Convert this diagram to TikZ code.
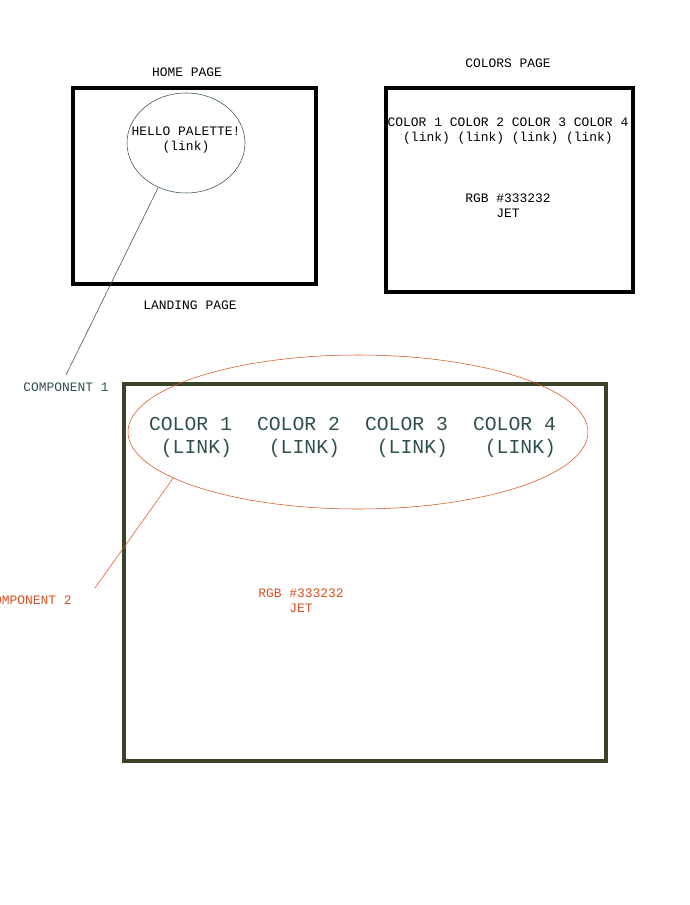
\documentclass[tikz,border=0pt]{standalone}
\usepackage{fontspec}
\setmonofont{Liberation Mono}
\usepackage{xcolor}
\usetikzlibrary{positioning, calc, shapes.geometric}
\definecolor{slate}{HTML}{2F4F4F}
\definecolor{rust}{HTML}{DA5020}
\definecolor{olive}{HTML}{3A4328}
\tikzset{
  small/.style={font=\ttfamily\fontsize{9.7}{11.3}\selectfont, align=center, inner sep=0pt},
  big/.style={font=\ttfamily\fontsize{14.8}{17.3}\selectfont, align=right, inner sep=0pt, text=slate},
  page/.style={draw=black, line width=3pt}
}
\begin{document}
\begin{tikzpicture}[x=0.75pt, y=-0.75pt]
\useasboundingbox (0,0) rectangle (689,905);
% Home page
\node[small] (hometitle) at (187,72) {HOME PAGE};
\draw[page] (73,88) rectangle (316,284);
\node[draw=slate, ellipse, minimum width=118*0.75pt, minimum height=100*0.75pt, inner sep=0pt] (hello) at (186,143) {};
\node[small] (hellotext) at (186,140) {HELLO PALETTE!\\(link)};
\node[small] (landing) at (190,305) {LANDING PAGE};

% Colors page
\node[small] (colorstitle) at (508,63) {COLORS PAGE};
\draw[page] (386,88) rectangle (633,292);
\node[small] (links) at (508,131) {COLOR 1 COLOR 2 COLOR 3 COLOR 4\\(link) (link) (link) (link)};
\node[small] (rgb) at (508,206) {RGB \#333232\\JET};

% Component 1
\node[small, text=slate] (comp1) at (66,387) {COMPONENT 1};
\coordinate (c1end) at (66,375);
\draw[slate] (hello.238) -- (c1end);

% Zoomed colors page
\draw[olive, line width=3pt] (124,384) rectangle (606,761);
\foreach \i in {1,...,4}
    \node[big] (col\i) at ({190.5+108*(\i-1)},437) {COLOR \i\\(LINK)};
\node[draw=rust, ellipse, minimum width=460*0.75pt, minimum height=154*0.75pt, inner sep=0pt] (row) at (358,432) {};
\node[small, text=rust] (rgb2) at (301,601) {RGB \#333232\\JET};

% Component 2
\node[small, text=rust] (comp2) at (29,600) {COMPONENT 2};
\coordinate (c2end) at (95,588);
\draw[rust] (row.194) -- (c2end);
\end{tikzpicture}
\end{document}
